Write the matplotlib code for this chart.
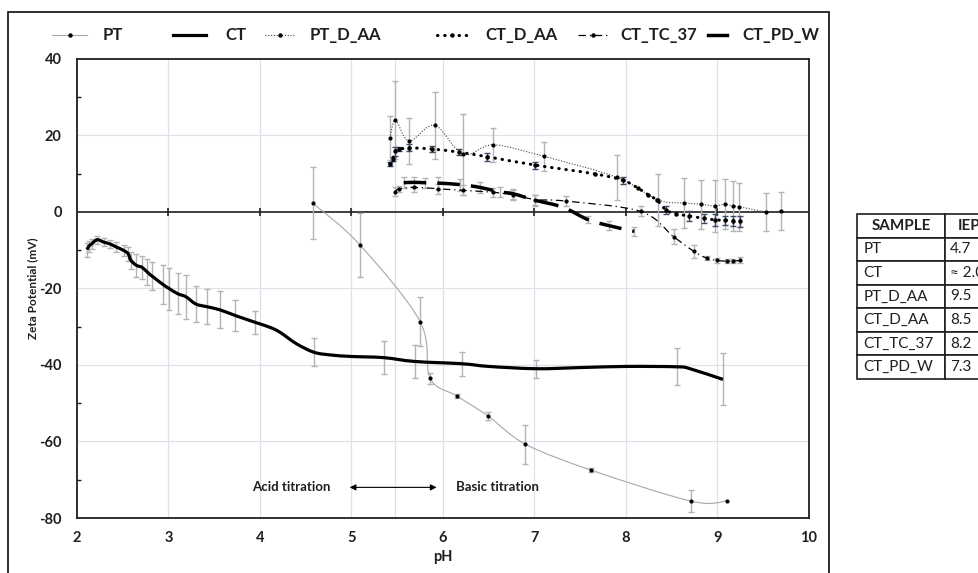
import numpy as np
import matplotlib
matplotlib.use("Agg")
import matplotlib.pyplot as plt
from matplotlib.path import Path
from matplotlib.patches import PathPatch, Rectangle
from matplotlib.lines import Line2D

plt.rcParams['font.family'] = ['Lato', 'DejaVu Sans']
plt.rcParams['axes.unicode_minus'] = False

# zeta potential vs pH, one set per sample (x = pH, y = mV, e = std dev)
pt_x = [4.58, 5.09, 5.75, 5.86, 6.15, 6.49, 6.90, 7.62, 8.71, 9.10]
pt_y = [2.2, -8.6, -28.7, -43.5, -48.1, -53.3, -60.7, -67.5, -75.6, -75.6]
pt_e = [9.4, 8.4, 6.4, 1.5, 0.5, 1.0, 5.1, 0.6, 2.8, 0]

ct_x = [2.11, 2.13, 2.16, 2.22, 2.29, 2.36, 2.43, 2.51, 2.56, 2.59, 2.65, 2.71,
        2.77, 2.82, 2.94, 3.01, 3.10, 3.19, 3.30, 3.42, 3.56, 3.73, 3.95, 4.11,
        4.22, 4.40, 4.59, 4.77, 5.00, 5.35, 5.69, 6.21, 6.50, 7.02, 7.50, 8.01,
        8.56, 8.70, 9.06]
ct_y = [-9.9, -9.0, -8.4, -7.3, -7.9, -8.4, -9.2, -10.1, -11.0, -12.7, -14.0, -14.5,
        -15.8, -16.8, -19.0, -20.1, -21.4, -22.2, -24.1, -24.8, -25.6, -27.1, -28.9, -30.2,
        -31.5, -34.5, -36.7, -37.4, -37.8, -38.1, -39.1, -39.7, -40.4, -41.0, -40.7, -40.4,
        -40.5, -41.0, -43.8]
ct_e = [1.8, 1.5, 1.2, 1.0, 1.0, 1.0, 1.2, 1.5, 1.8, 2.2, 3.0, 3.0,
        3.4, 3.7, 5.0, 5.5, 5.4, 5.7, 4.8, 4.6, 4.8, 4.1, 3.0, 0,
        0, 0, 3.7, 0, 0, 4.4, 4.3, 3.1, 0, 2.4, 0, 0,
        4.8, 0, 6.8]

ptdaa_x = [5.42, 5.48, 5.63, 5.91, 6.22, 6.55, 7.10, 7.90, 8.35, 8.63, 8.82, 8.97,
           9.08, 9.17, 9.24, 9.53, 9.69]
ptdaa_y = [19.2, 23.9, 18.5, 22.6, 15.0, 17.5, 14.5, 9.0, 3.1, 2.3, 2.0, 1.5,
           2.0, 1.5, 1.3, 0.0, 0.2]
ptdaa_e = [5.7, 10.2, 5.9, 8.8, 10.5, 4.5, 3.8, 5.8, 6.7, 6.6, 6.4, 6.7,
           6.6, 6.5, 6.2, 4.9, 4.9]

ctdaa_x = [5.42, 5.45, 5.48, 5.52, 5.63, 5.88, 6.17, 6.48, 7.01, 7.66, 7.97, 8.13,
           8.24, 8.34, 8.44, 8.55, 8.69, 8.85, 8.97, 9.08, 9.17, 9.25]
ctdaa_y = [12.5, 13.8, 15.8, 16.3, 16.7, 16.4, 15.6, 14.4, 12.2, 9.9, 8.2, 6.2,
           4.5, 3.0, 0.4, -0.5, -1.1, -1.7, -2.1, -2.2, -2.3, -2.5]
ctdaa_e = [0.6, 0.5, 1.2, 0.5, 0.9, 0.7, 0.8, 1.0, 0.9, 0, 1.0, 0,
           0, 0, 1.0, 0, 1.2, 1.2, 1.5, 1.2, 1.3, 1.4]

cttc_x = [5.48, 5.52, 5.68, 5.95, 6.22, 6.55, 6.77, 7.01, 7.34, 8.16, 8.52, 8.74,
          8.88, 8.99, 9.10, 9.17, 9.25]
cttc_y = [5.3, 6.0, 6.4, 6.0, 5.6, 5.1, 4.4, 3.2, 2.8, 0.1, -6.5, -10.3,
          -12.1, -12.7, -12.9, -12.9, -12.7]
cttc_e = [1.3, 0.8, 1.3, 1.3, 1.3, 1.2, 1.4, 1.3, 1.2, 1.3, 2.0, 1.7,
          0.6, 0.6, 0.6, 0.6, 0.8]

ctpdw_x = [5.57, 5.68, 5.80, 5.95, 6.19, 6.40, 6.62, 6.77, 7.01, 7.31, 7.58, 7.81, 8.09]
ctpdw_y = [7.6, 7.7, 7.6, 7.5, 7.1, 6.4, 5.2, 4.7, 3.0, 1.2, -2.0, -3.6, -5.1]
ctpdw_e = [1.4, 1.4, 1.3, 1.5, 1.6, 1.5, 1.3, 1.3, 1.4, 0, 0.9, 1.2, 1.2]

samples = ["PT", "CT", "PT_D_AA", "CT_D_AA", "CT_TC_37", "CT_PD_W"]
iep = ["4.7", "\u2248 2.0", "9.5", "8.5", "8.2", "7.3"]

titration_start = 5.47

W, H = 979, 573
dark = "#1f1f1f"
grid_c = "#dde1ea"
err_c = "#b3b3b3"


def smooth_path(x, y):
    # Catmull-Rom style Bezier through the points (spreadsheet "smoothed line")
    p = np.column_stack([x, y]).astype(float)
    verts = [p[0]]
    codes = [Path.MOVETO]
    n = len(p)
    for i in range(n - 1):
        p0 = p[i - 1] if i > 0 else p[i]
        p3 = p[i + 2] if i + 2 < n else p[i + 1]
        verts += [p[i] + (p[i + 1] - p0) / 6, p[i + 1] - (p3 - p[i]) / 6, p[i + 1]]
        codes += [Path.CURVE4] * 3
    return Path(verts, codes)


def draw_series(ax, x, y, e, lw, ls, color, ms=0, ecolor=err_c, cap="butt", z=3):
    x, y, e = np.array(x), np.array(y), np.array(e)
    m = e > 0
    ax.errorbar(x[m], y[m], yerr=e[m], fmt="none", ecolor=ecolor, elinewidth=1.0,
                capsize=2, capthick=1.0, zorder=2)
    patch = PathPatch(smooth_path(x, y), fill=False, edgecolor=color, lw=lw,
                      linestyle=ls, capstyle=cap, joinstyle="round", zorder=z)
    ax.add_patch(patch)
    if ms:
        ax.plot(x, y, ls="none", marker="o", ms=ms, color="black", zorder=z + 1)


fig = plt.figure(figsize=(W / 100, H / 100), dpi=100)
ax = fig.add_axes([77 / W, 1 - 518 / H, (809 - 77) / W, (518 - 58.7) / H])

ax.set_xlim(2, 10)
ax.set_ylim(-80, 40)
ax.set_xticks(range(2, 11))
ax.set_yticks(range(-80, 41, 20))
ax.set_yticks(range(-70, 40, 20), minor=True)
ax.tick_params(axis="both", which="major", length=0, labelsize=10.5, colors=dark)
ax.tick_params(axis="x", pad=9)
ax.tick_params(axis="y", pad=11)
ax.tick_params(axis="y", which="minor", direction="in", length=3, width=1, color=dark)
for lab in ax.get_xticklabels() + ax.get_yticklabels():
    lab.set_fontweight("bold")
for s in ax.spines.values():
    s.set_color(dark)
    s.set_linewidth(1.3)

for gx in range(3, 10):
    ax.axvline(gx, color=grid_c, lw=0.9, zorder=0)
for gy in [-60, -40, -20, 20]:
    ax.axhline(gy, color=grid_c, lw=0.9, zorder=0)
ax.axvline(titration_start, color=grid_c, lw=0.9, zorder=0)

# x axis crosses at zero
ax.axhline(0, color=dark, lw=1.2, zorder=1)
xt = np.arange(3, 10)
ax.plot(xt, np.zeros(len(xt)), ls="none", marker="|", ms=6, mew=1.2, color=dark, zorder=1)

draw_series(ax, pt_x, pt_y, pt_e, 0.8, "-", "#a8a8a8", ms=2.0)
draw_series(ax, ct_x, ct_y, ct_e, 2.3, "-", "black", z=4)
draw_series(ax, ptdaa_x, ptdaa_y, ptdaa_e, 0.8, (0, (1, 1.5)), "#404040", ms=2.0)
draw_series(ax, ctdaa_x, ctdaa_y, ctdaa_e, 2.2, (0, (0.15, 2.2)), "black", ms=2.2,
            ecolor="#3e4a66", cap="round", z=5)
draw_series(ax, cttc_x, cttc_y, cttc_e, 0.9, (0, (6, 3, 1, 3)), "black", ms=2.0)
draw_series(ax, ctpdw_x, ctpdw_y, ctpdw_e, 2.5, (0, (6.5, 3.2)), "black", z=5)

ax.set_xlabel("pH", fontsize=10.5, fontweight="bold", color=dark)
ax.set_ylabel("Zeta Potential (mV)", fontsize=8.5, fontweight="bold", color=dark)
ax.xaxis.set_label_coords(0.5, (518 - 557) / (518 - 58.7))
ax.yaxis.set_label_coords((33 - 77) / (809 - 77), 0.5)
ax.xaxis.label.set_va("center")
ax.yaxis.label.set_va("center")

ax.annotate("", xy=(5.93, -72), xytext=(4.98, -72),
            arrowprops=dict(arrowstyle="<|-|>", lw=0.8, color="black", mutation_scale=9,
                            shrinkA=0, shrinkB=0))
ax.text(4.34, -72, "Acid titration", ha="center", va="center", fontsize=9.5,
        fontweight="bold", color=dark)
ax.text(6.6, -72, "Basic titration", ha="center", va="center", fontsize=9.5,
        fontweight="bold", color=dark)

# legend along the top
keys = [
    (52, 87, 103, dict(color="#a8a8a8", lw=0.8), True),
    (173, 206, 225, dict(color="black", lw=2.3), False),
    (265, 295, 310, dict(color="#404040", lw=0.8, ls=(0, (1, 1.5))), True),
    (437, 467, 485, dict(color="black", lw=2.2, ls=(0, (0.15, 2.2)),
                         dash_capstyle="round"), True),
    (578, 608, 620, dict(color="black", lw=0.9, ls=(0, (6, 3, 1, 3))), True),
    (708, 727, 742, dict(color="black", lw=2.5), False),
]
ly = 1 - 35 / H
for (x0, x1, tx, style, dot), name in zip(keys, samples):
    fig.add_artist(Line2D([x0 / W, x1 / W], [ly, ly], transform=fig.transFigure, **style))
    if dot:
        fig.add_artist(Line2D([(x0 + x1) / 2 / W], [ly], transform=fig.transFigure,
                              ls="none", marker="o", ms=2.2, color="black"))
    fig.text(tx / W, ly, name, ha="left", va="center", fontsize=12, fontweight="bold",
             color=dark)

# outer frame
fig.add_artist(Rectangle((8 / W, -0.1), (829 - 8) / W, 1.1 - 12.5 / H,
                         transform=fig.transFigure, fill=False, edgecolor=dark, lw=1.3))

# IEP table
tab_w = 88 + 48
tab_ax = fig.add_axes([857 / W, 1 - 379 / H, tab_w / W, (379 - 214) / H])
tab_ax.axis("off")
tbl = tab_ax.table(cellText=[[s, v] for s, v in zip(samples, iep)],
                   colLabels=["SAMPLE", "IEP"], colWidths=[88 / tab_w, 48 / tab_w],
                   cellLoc="left", bbox=[0, 0, 1, 1])
tbl.auto_set_font_size(False)
for (r, c), cell in tbl.get_celld().items():
    cell.set_edgecolor(dark)
    cell.set_linewidth(1.2)
    cell.PAD = 0.07 if c == 0 else 0.1
    cell.get_text().set_fontsize(11)
    cell.get_text().set_color(dark)
    if r == 0:
        cell.get_text().set_fontweight("bold")
        cell.get_text().set_ha("center")
        cell._loc = "center"

fig.savefig("out.png", dpi=100)
